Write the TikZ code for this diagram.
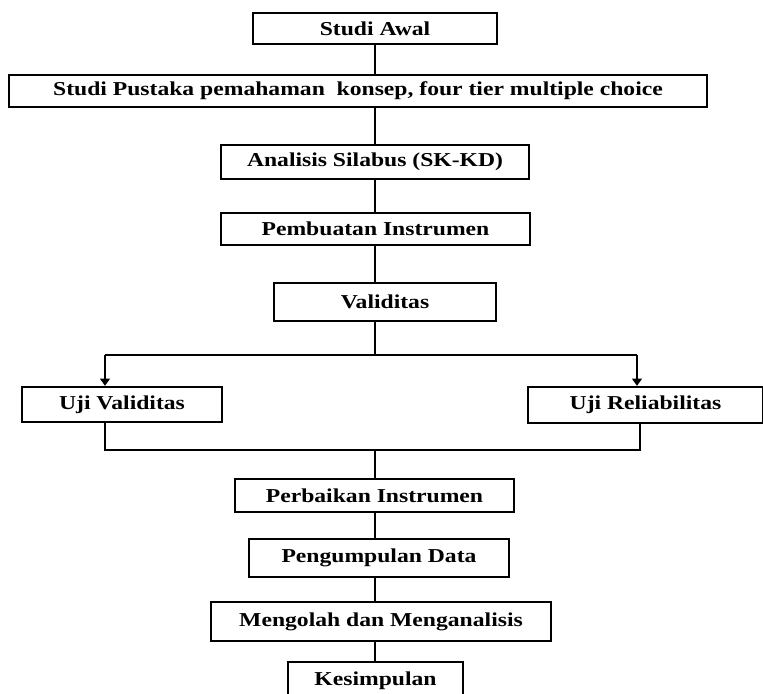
\documentclass[tikz,border=0pt]{standalone}
\usepackage{fontspec}
\setmainfont{Liberation Serif}[FakeStretch=1.2]
\usetikzlibrary{arrows.meta}

\begin{document}
\begin{tikzpicture}[x=0.025cm,y=-0.025cm]

% Define block styles
\tikzstyle{stage} = [rectangle, draw=black, line width=1.6pt, font=\fontsize{14}{16}\selectfont\bfseries, text centered, inner sep=0pt]
\tikzstyle{line} = [line width=1.6pt]
\tikzstyle{arrow} = [line width=1.6pt,->,>={Triangle[length=1.8mm,width=2.4mm]}]

\useasboundingbox (0,0) rectangle (763,694);

% Define nodes
\node (awal) [stage, minimum width=6.1cm, minimum height=0.775cm] at (375,28.5) {Studi Awal};
\node (pustaka) [stage, minimum width=17.45cm, minimum height=0.8cm] at (358,91) {Studi Pustaka pemahaman\ \ konsep, four tier multiple choice};
\node (silabus) [stage, minimum width=7.7cm, minimum height=0.85cm] at (375,162) {Analisis Silabus (SK-KD)};
\node (pembuatan) [stage, minimum width=7.725cm, minimum height=0.8cm] at (375.5,229) {Pembuatan Instrumen};
\node (validitas) [stage, minimum width=5.55cm, minimum height=0.95cm] at (385,302) {Validitas};

\node (ujival) [stage, minimum width=5cm, minimum height=0.875cm] at (122,404.5) {Uji Validitas};
\node (ujirel) [stage, minimum width=5.875cm, minimum height=0.9cm] at (645.5,405) {Uji Reliabilitas};

\node (perbaikan) [stage, minimum width=6.975cm, minimum height=0.825cm] at (374.5,495.5) {Perbaikan Instrumen};
\node (pengumpulan) [stage, minimum width=6.5cm, minimum height=0.95cm] at (379,558) {Pengumpulan Data};
\node (mengolah) [stage, minimum width=8.5cm, minimum height=0.975cm] at (381,621.5) {Mengolah dan Menganalisis};
\node (kesimpulan) [stage, minimum width=4.375cm, minimum height=0.95cm] at (375.5,681) {Kesimpulan};

% Branch and join points
\coordinate (split) at (375,355);
\coordinate (splitL) at (105,355);
\coordinate (splitR) at (637,355);
\coordinate (join) at (375,450);
\coordinate (joinL) at (105,450);
\coordinate (joinR) at (640,450);

% Draw lines
\draw [line] (awal.south) -- (awal.south |- pustaka.north);
\draw [line] (split |- pustaka.south) -- (split |- silabus.north);
\draw [line] (split |- silabus.south) -- (split |- pembuatan.north);
\draw [line] (split |- pembuatan.south) -- (split |- validitas.north);
\draw [line] (split |- validitas.south) -- (split);
\draw [arrow] (splitL) -- (splitL |- ujival.north);
\draw [arrow] (splitR) -- (splitR |- ujirel.north);
\draw [line] (splitL) -- (splitR);

\draw [line] (joinL |- ujival.south) -- (joinL) -- (joinR) -- (joinR |- ujirel.south);
\draw [line] (join) -- (join |- perbaikan.north);
\draw [line] (split |- perbaikan.south) -- (split |- pengumpulan.north);
\draw [line] (split |- pengumpulan.south) -- (split |- mengolah.north);
\draw [line] (split |- mengolah.south) -- (split |- kesimpulan.north);

\end{tikzpicture}
\end{document}
